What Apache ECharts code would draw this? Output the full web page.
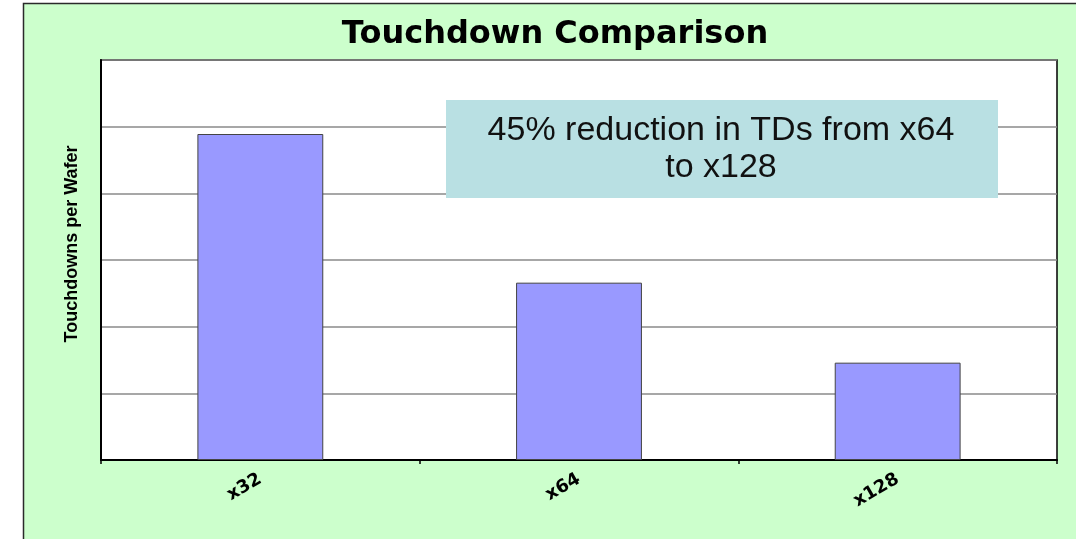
<!DOCTYPE html>
<html>
<head>
<meta charset="utf-8">
<script src="https://cdn.jsdelivr.net/npm/echarts@6/dist/echarts.min.js"></script>
<style>
html,body{margin:0;padding:0;background:#ffffff;}
#chart{width:1076px;height:539px;}
</style>
</head>
<body>
<div id="chart"></div>
<script>
var categories = ['x32', 'x64', 'x128'];
var touchdowns = [4.89, 2.66, 1.46];
var yTicks = [0, 1, 2, 3, 4, 5, 6];
var titleText = 'Touchdown Comparison';
var yAxisTitle = 'Touchdowns per Wafer';
var noteText = '45% reduction in TDs from x64\nto x128';

var chart = echarts.init(document.getElementById('chart'), null, {renderer: 'canvas'});
var option = {
  animation: false,
  backgroundColor: '#ffffff',
  title: {
    text: titleText,
    left: 550,
    top: 14,
    textAlign: 'center',
    textStyle: {fontFamily: 'DejaVu Sans', fontWeight: 'bold', fontSize: 32, color: '#000'}
  },
  grid: {
    left: 101, top: 60, right: 19, bottom: 79,
    show: true, backgroundColor: '#ffffff', borderColor: '#000000', borderWidth: 1.5
  },
  xAxis: {
    type: 'category',
    data: categories,
    axisLine: {lineStyle: {color: '#000', width: 2}},
    axisTick: {show: true, length: 4, lineStyle: {color: '#000', width: 1.5}},
    axisLabel: {rotate: 30, margin: 18, fontFamily: 'DejaVu Sans', fontWeight: 'bold', fontSize: 18, color: '#000'}
  },
  yAxis: {
    type: 'value',
    min: yTicks[0],
    max: yTicks[yTicks.length - 1],
    interval: 1,
    axisLine: {show: true, lineStyle: {color: '#000', width: 2}},
    axisTick: {show: false},
    axisLabel: {show: false},
    splitLine: {show: true, lineStyle: {color: '#8a8a8a', width: 1.5}}
  },
  series: [{
    type: 'bar',
    data: touchdowns,
    barWidth: '39.5%',
    itemStyle: {color: '#9999ff', borderColor: '#444444', borderWidth: 1}
  }],
  graphic: [
    {
      type: 'rect', z: -10, silent: true,
      shape: {x: 23.5, y: 3.5, width: 1070, height: 550},
      style: {fill: '#ccffcc', stroke: '#2a2a2a', lineWidth: 1.5}
    },
    {
      type: 'text', z: 10, silent: true,
      x: 72, y: 244, rotation: Math.PI / 2,
      style: {text: yAxisTitle, fill: '#000', font: 'bold 18px "Liberation Sans", Arial, sans-serif', align: 'center', verticalAlign: 'middle'}
    },
    {
      type: 'rect', z: 10, silent: true,
      shape: {x: 446, y: 100, width: 552, height: 98},
      style: {fill: '#b9e0e3', stroke: null}
    },
    {
      type: 'text', z: 11, silent: true,
      x: 721, y: 149,
      style: {text: noteText, fill: '#111', font: '34px "Liberation Sans", Arial, sans-serif', lineHeight: 37, align: 'center', verticalAlign: 'middle'}
    }
  ]
};
chart.setOption(option);
</script>
</body>
</html>
